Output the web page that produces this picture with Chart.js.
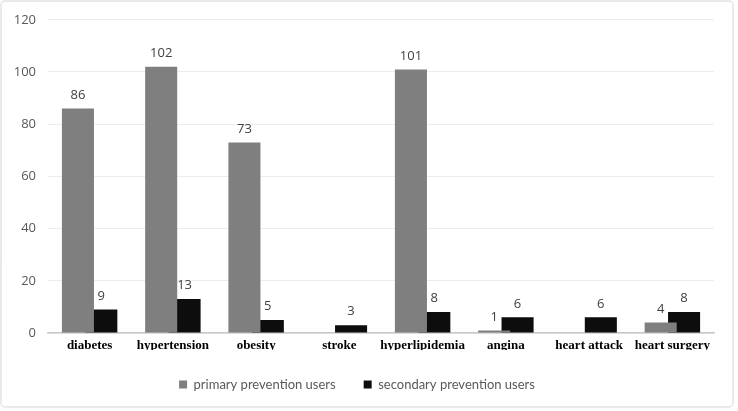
<!DOCTYPE html>
<html><head><meta charset="utf-8">
<script src="https://cdn.jsdelivr.net/npm/chart.js@4.4.0/dist/chart.umd.min.js"></script>
<style>
html,body{margin:0;padding:0;background:#fff;}
#wrap{width:738px;height:411px;position:relative;}
</style></head>
<body><div id="wrap"><canvas id="c" width="738" height="411"></canvas></div>
<script>
const categories = ["diabetes","hypertension","obesity","stroke","hyperlipidemia","angina","heart attack","heart surgery"];
const primaryUsers = [86,102,73,null,101,1,null,4];
const secondaryUsers = [9,13,5,3,8,6,6,8];
const yTicks = [0,20,40,60,80,100,120];
const seriesNames = ["primary prevention users","secondary prevention users"];

const overlapPlugin = {
  id:'overlap',
  afterDatasetsUpdate(chart){
    chart.data.datasets.forEach((ds,i)=>{
      const meta = chart.getDatasetMeta(i);
      const dir = i===0 ? -1 : 1;
      meta.data.forEach(el=>{ el.x += dir * el.width * 0.365; });
    });
  }
};
const labelPlugin = {
  id:'vals',
  afterDatasetsDraw(chart){
    const ctx = chart.ctx;
    ctx.save();
    ctx.font = '13px "Open Sans", "DejaVu Sans", sans-serif';
    ctx.fillStyle = '#404040';
    ctx.textAlign = 'center';
    ctx.textBaseline = 'bottom';
    chart.data.datasets.forEach((ds,i)=>{
      chart.getDatasetMeta(i).data.forEach((el,j)=>{
        const v = ds.data[j];
        if(v===null||v===undefined) return;
        ctx.fillText(String(v), el.x, el.y - 7);
      });
    });
    ctx.restore();
  }
};
const framePlugin = {
  id:'frame',
  beforeDraw(chart){
    const ctx = chart.ctx;
    ctx.save();
    ctx.fillStyle='#fff';
    ctx.fillRect(0,0,chart.width,chart.height);
    ctx.strokeStyle='#e3e3e3';
    ctx.lineWidth=1.5;
    ctx.beginPath();
    ctx.roundRect(1,1,chart.width-6,chart.height-5,4);
    ctx.stroke();
    ctx.restore();
  }
};

new Chart(document.getElementById('c'),{
  type:'bar',
  data:{
    labels:categories,
    datasets:[
      {label:seriesNames[0],data:primaryUsers,backgroundColor:'#7f7f7f',grouped:false,barPercentage:1,categoryPercentage:0.385},
      {label:seriesNames[1],data:secondaryUsers,backgroundColor:'#0d0d0d',grouped:false,barPercentage:1,categoryPercentage:0.385}
    ]
  },
  options:{
    responsive:false,
    animation:false,
    layout:{padding:{left:0,right:24,top:18,bottom:10}},
    plugins:{
      legend:{
        position:'bottom',
        labels:{
          boxWidth:8,boxHeight:8,padding:28,
          color:'#595959',
          font:{family:'Lato, "Open Sans", sans-serif',size:13}
        }
      },
      tooltip:{enabled:false}
    },
    scales:{
      x:{
        grid:{display:false,drawTicks:false},
        border:{display:true,color:'#c8c8c8',width:1.5},
        ticks:{
          color:'#000',padding:5,maxRotation:0,autoSkip:false,
          font:{family:'"Liberation Serif", "Times New Roman", serif',size:13,weight:'bold'}
        },
        afterFit(s){ s.height = 17; }
      },
      y:{
        min:0,max:120,
        afterBuildTicks(s){ s.ticks = yTicks.map(v=>({value:v})); },
        grid:{color:'#ececec',drawTicks:false},
        border:{display:false},
        ticks:{
          color:'#595959',padding:12,
          font:{family:'"Open Sans", "DejaVu Sans", sans-serif',size:13}
        },
        afterFit(s){ s.width = 48; }
      }
    }
  },
  plugins:[framePlugin,overlapPlugin,labelPlugin]
});
</script></body></html>
